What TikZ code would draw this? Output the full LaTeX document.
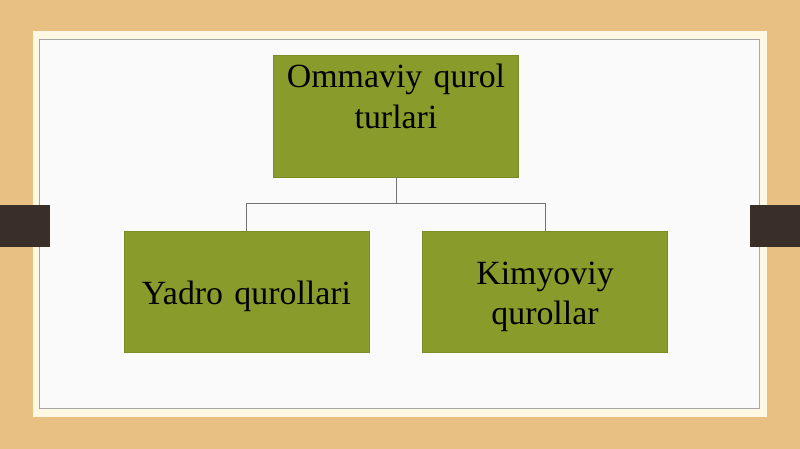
\documentclass[tikz,border=0pt]{standalone}
\usepackage{fontspec}
\setmainfont{Liberation Serif}
\usetikzlibrary{positioning}
\definecolor{wood}{RGB}{232,192,131}
\definecolor{frame}{RGB}{253,248,228}
\definecolor{olive}{RGB}{137,156,43}
\definecolor{bar}{RGB}{58,46,41}

\begin{document}
\begin{tikzpicture}[x=1bp, y=-1bp,
thin,
node distance=175.5bp,
block/.style={draw=olive!90!black, fill=olive, rectangle, inner sep=0pt, text width=245bp, align=center, font=\fontsize{34}{41}\selectfont},
link/.style={draw=black!55, line width=0.8bp}]

\useasboundingbox (0,0) rectangle (800,449);
\fill[wood] (0,0) rectangle (800,449);
\fill[frame] (33,31) rectangle (767,417);
\draw[black!35, fill=white!98!black] (39,39) rectangle (759,408);
\fill[bar] (0,205) rectangle (50,247);
\fill[bar] (750,205) rectangle (800,247);

\node[block, text height=33bp, text depth=89bp]		(A) at (396,116)		{Ommaviy qurol\\ turlari};
\node[block, text height=73bp, text depth=48bp]		(B)[below of=A, xshift=-149.5bp]	{Yadro qurollari};
\node[block, text height=53bp, text depth=68bp]		(C)[below of=A, xshift=149bp]		{Kimyoviy\\ qurollar};

\coordinate (J) at ([yshift=-26bp]A.south);
\draw[link] (A.south) -- (J) -| (B.north);
\draw[link] (J) -| (C.north);

\end{tikzpicture}
\end{document}
